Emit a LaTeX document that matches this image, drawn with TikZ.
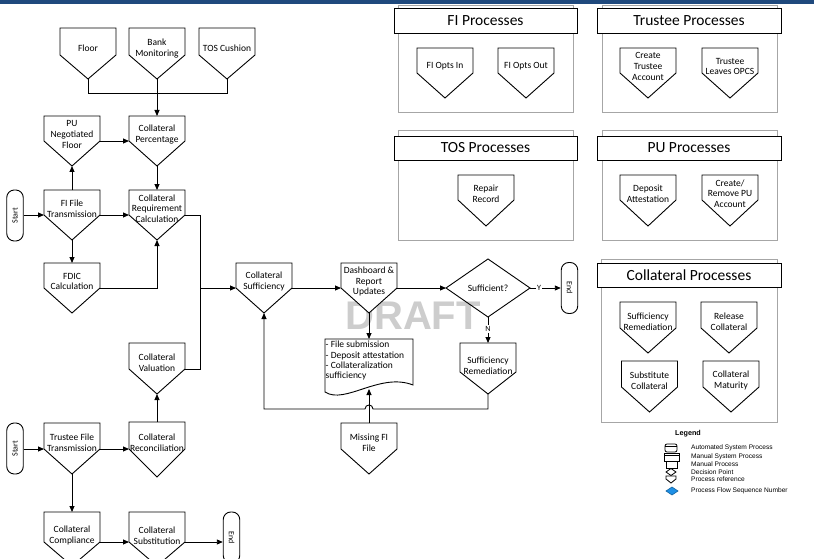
\documentclass[tikz,border=0pt]{standalone}
\usepackage{fontspec}
\setmainfont{Carlito}
\newfontfamily\arialf{Liberation Sans}
\usepackage{graphicx}
\usetikzlibrary{arrows.meta}
\definecolor{navy}{RGB}{31,73,125}
\definecolor{panelgray}{RGB}{166,166,166}
\definecolor{draftgray}{RGB}{205,205,205}
\definecolor{legblue}{RGB}{30,144,230}
\tikzset{
  shp/.style={draw=black, line width=0.9pt, fill=white},
  lbl/.style={font=\fontsize{9.5}{10.6}\selectfont, align=center, inner sep=0pt},
  ln/.style={draw=black, line width=0.9pt},
  arr/.style={ln, -{Triangle[length=6pt,width=5pt]}},
  pnl/.style={draw=panelgray, line width=0.9pt},
  hdr/.style={draw=black, line width=0.9pt, fill=white, font=\fontsize{15.5}{17}\selectfont, inner sep=0pt},
  term/.style={draw=black, line width=0.9pt, fill=white, rounded corners=7.5pt, minimum width=16.5pt, minimum height=51pt, inner sep=0pt, font=\fontsize{8}{9}\selectfont},
  legtxt/.style={font=\arialf\fontsize{6.6}{8}\selectfont, anchor=west, inner sep=0pt},
  yn/.style={font=\fontsize{8}{9}\selectfont, fill=white, inner sep=1pt}
}
\newcommand\pref[6]{%
  \draw[shp] ({#2-28},#3) -- ({#2+28},#3) -- ({#2+28},#4) -- (#2,#5) -- ({#2-28},#4) -- cycle;
  \node[lbl] (#1) at (#2,{#4-6.5}) {#6};
  \coordinate (#1-t) at (#2,#3);
  \coordinate (#1-b) at (#2,#5);
  \coordinate (#1-l) at ({#2-28},#4);
  \coordinate (#1-r) at ({#2+28},#4);
}
\begin{document}
\begin{tikzpicture}[x=1pt,y=-1pt]
\useasboundingbox (0,0) rectangle (814,559);
\fill[white] (0,0) rectangle (814,559);
\fill[navy] (0,0) rectangle (814,4);

% watermark
\node[font=\arialf\bfseries\fontsize{40}{40}\selectfont, text=draftgray, inner sep=0pt] (draft) at (413,316) {DRAFT};

% ---------- panels ----------
\draw[pnl] (398,5) rectangle (573,112);
\node[hdr, minimum width=183pt, minimum height=25pt] (fih) at (485.5,20.5) {FI Processes};
\draw[pnl] (602,5) rectangle (777,112);
\node[hdr, minimum width=184pt, minimum height=25pt] (trh) at (689,20.5) {Trustee Processes};
\draw[pnl] (398,130) rectangle (573,240);
\node[hdr, minimum width=183pt, minimum height=24pt] (tosh) at (485.5,148) {TOS Processes};
\draw[pnl] (602,130) rectangle (777,240);
\node[hdr, minimum width=184pt, minimum height=24pt] (puh) at (689,148) {PU Processes};
\draw[pnl] (601,259) rectangle (777,422);
\node[hdr, minimum width=184pt, minimum height=24pt] (colh) at (689,275) {Collateral Processes};

\pref{foi}{445}{48}{73}{98}{FI Opts In}
\pref{foo}{526}{48}{73}{98}{FI Opts Out}
\pref{cta}{648}{48}{73}{98}{Create\\Trustee\\Account}
\pref{tlo}{730}{48}{73}{98}{Trustee\\Leaves OPCS}
\pref{rr}{486}{175}{200}{226}{Repair\\Record}
\pref{da}{648}{175}{200}{226}{Deposit\\Attestation}
\pref{crp}{730}{175}{200}{226}{Create/\\Remove PU\\Account}
\pref{psr}{648}{302}{328}{353}{Sufficiency\\Remediation}
\pref{prc}{729}{302}{328}{353}{Release\\Collateral}
\pref{psc}{649.5}{361}{387}{412}{Substitute\\Collateral}
\pref{pcm}{731}{361}{387}{412}{Collateral\\Maturity}

% ---------- main flow shapes ----------
\pref{floor}{88}{28}{55}{79}{Floor}
\pref{bank}{157}{28}{55}{79}{Bank\\Monitoring}
\pref{tos}{227}{28}{55}{79}{TOS Cushion}
\pref{pun}{72}{116}{141}{166}{PU\\Negotiated\\Floor}
\pref{cp}{157}{116}{141}{166}{Collateral\\Percentage}
\pref{fi}{72}{190}{215}{240}{FI File\\Transmission}
\pref{crc}{157}{190}{215}{240}{Collateral\\Requirement\\Calculation}
\pref{fdic}{72}{263}{288}{313}{FDIC\\Calculation}
\pref{cv}{157}{343}{369}{394}{Collateral\\Valuation}
\pref{crec}{157}{422}{449}{477}{Collateral\\Reconciliation}
\pref{tft}{72}{423}{449}{474}{Trustee File\\Transmission}
\pref{cc}{72}{512}{542}{566}{Collateral\\Compliance}
\pref{cst}{157}{512}{542}{566}{Collateral\\Substitution}
\pref{cs}{264}{263}{288}{313}{Collateral\\Sufficiency}
\pref{dr}{369}{263}{288}{313}{Dashboard \&\\Report\\Updates}
\pref{sr}{488}{343}{372}{394}{Sufficiency\\Remediation}
\pref{mf}{369}{423}{449}{474}{Missing FI\\File}

% terminators
\node[term] (s1) at (15,215.5) {\rotatebox{90}{Start}};
\node[term] (s2) at (15,448.5) {\rotatebox{90}{Start}};
\node[term] (e1) at (231.5,537.5) {\rotatebox{-90}{End}};
\node[term] (e2) at (569.5,288) {\rotatebox{-90}{End}};

% decision
\draw[ln] (446,288) -- (488,259) -- (530,288) -- (488,317) -- cycle;
\node[lbl] (dec) at (488,288) {Sufficient?};
\coordinate (dec-l) at (446,288);
\coordinate (dec-r) at (530,288);
\coordinate (dec-b) at (488,317);

% document
\draw[shp] (325,339) -- (413,339) -- (413,385) .. controls (380,372) and (345,405) .. (325,392) -- cycle;
\node[font=\fontsize{9.5}{10.3}\selectfont, align=left, anchor=north west, inner sep=0pt] (doc) at (325.5,341) {- File submission\\- Deposit attestation\\- Collateralization\\sufficiency};
\coordinate (doc-t) at (369,339);
\coordinate (doc-b) at (369,389);

% ---------- connectors ----------
\coordinate (j1) at (157,93);
\draw[ln] (floor-b) |- (j1);
\draw[ln] (tos-b) |- (j1);
\draw[arr] (bank-b) -- (cp-t);
\draw[arr] (pun-r) -- (cp-l);
\draw[arr] (cp-b) -- (crc-t);
\draw[arr] (fi-t) -- (pun-b);
\draw[arr] (s1.east |- fi-l) -- (fi-l);
\draw[arr] (fi-r) -- (crc-l);
\draw[arr] (fi-b) -- (fdic-t);
\draw[arr] (fdic-r) -| (crc-b);
\coordinate (j2) at (200,288);
\draw[ln] (crc-r) -- (crc-r -| j2) -- (cv-r -| j2) -- (cv-r);
\draw[arr] (j2) -- (cs-l);
\draw[arr] (crec-t) -- (cv-b);
\draw[arr] (s2.east |- tft-l) -- (tft-l);
\draw[arr] (tft-r) -- (crec-l);
\draw[arr] (tft-b) -- (cc-t);
\draw[arr] (cc-r) -- (cst-l);
\draw[arr] (cst-r) -- (cst-r -| e1.west);
\draw[arr] (cs-r) -- (dr-l);
\draw[arr] (dr-r) -- (dec-l);
\draw[arr] (dec-r) -- (e2.west);
\node[yn] (ylab) at (539,288) {Y};
\draw[arr] (dec-b) -- (sr-t);
\node[yn] (nlab) at (488,329) {N};
\draw[arr] (dr-b) -- (doc-t);
\coordinate (lp1) at (488,409);
\coordinate (lp2) at (264,409);
\draw[arr] (sr-b) -- (lp1) -- (373,409) .. controls (373,403.7) and (365,403.7) .. (365,409) -- (lp2) -- (cs-b);
\draw[arr] (mf-t) -- (doc-b);

% ---------- legend ----------
\node[font=\arialf\bfseries\fontsize{7.2}{8}\selectfont, anchor=west, inner sep=0pt] (leg) at (675,434) {Legend};
\draw[line width=0.8pt, rounded corners=2pt] (665,444) rectangle (677,452);
\draw[line width=0.8pt] (665,446.5) -- (677,446.5);
\draw[line width=0.8pt] (664,453) rectangle (679,461.5);
\draw[line width=0.8pt] (664,455.5) -- (679,455.5);
\draw[line width=0.8pt] (666,461.5) rectangle (677,468);
\draw[line width=0.8pt] (671,468.5) -- (676,472) -- (671,475.5) -- (666,472) -- cycle;
\draw[line width=0.8pt] (666,476) -- (676,476) -- (676,479) -- (671,483) -- (666,479) -- cycle;
\draw[line width=0.6pt, draw=legblue!70!black, fill=legblue] (672,487) -- (678,491) -- (672,495) -- (666,491) -- cycle;
\node[legtxt] (l1) at (691,448) {Automated System Process};
\node[legtxt] (l2) at (691,457) {Manual System Process};
\node[legtxt] (l3) at (691,464.5) {Manual Process};
\node[legtxt] (l4) at (691,472) {Decision Point};
\node[legtxt] (l5) at (691,479) {Process reference};
\node[legtxt] (l6) at (691,491) {Process Flow Sequence Number};
\end{tikzpicture}
\end{document}
